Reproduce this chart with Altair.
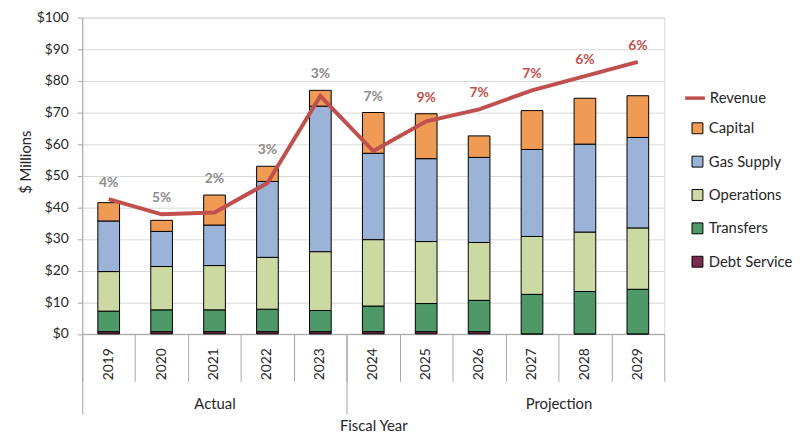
import altair as alt
import pandas as pd

# ---- data ----
years = ["2019", "2020", "2021", "2022", "2023", "2024", "2025", "2026", "2027", "2028", "2029"]
debt_service = [0.7, 0.7, 0.7, 0.7, 0.7, 0.7, 0.7, 0.7, 0.0, 0.0, 0.0]
transfers = [6.5, 6.9, 6.9, 7.1, 6.7, 8.1, 8.9, 9.9, 12.5, 13.4, 14.1]
operations = [12.5, 13.7, 14.0, 16.4, 18.6, 21.0, 19.6, 18.3, 18.3, 18.8, 19.4]
gas_supply = [16.0, 11.1, 12.8, 24.0, 46.0, 27.3, 26.2, 26.9, 27.5, 27.8, 28.6]
capital = [5.8, 3.5, 9.5, 4.8, 5.0, 12.9, 14.2, 6.8, 12.3, 14.5, 13.2]
revenue = [42.6, 37.8, 38.4, 47.7, 75.2, 57.8, 67.2, 71.0, 77.0, 81.5, 86.0]
growth_labels = ["4%", "5%", "2%", "3%", "3%", "7%", "9%", "7%", "7%", "6%", "6%"]
label_kind = ["actual"] * 6 + ["projection"] * 5

groups = ["Actual", "Projection"]
group_bounds = [0, 5]          # band index where each group starts
group_label_pos = [2.5, 9]     # band index where each group's label sits

categories = ["Capital", "Gas Supply", "Operations", "Transfers", "Debt Service"]
cat_colors = ["#EF9B56", "#9AB3D6", "#CCD9A3", "#4F9868", "#7A2C4C"]
series = {"Debt Service": debt_service, "Transfers": transfers, "Operations": operations,
          "Gas Supply": gas_supply, "Capital": capital}
stack_order = ["Debt Service", "Transfers", "Operations", "Gas Supply", "Capital"]

rows = []
for cat in stack_order:
    for y, v in zip(years, series[cat]):
        rows.append({"Year": y, "cat": cat, "value": v, "ord": stack_order.index(cat)})
seg_df = pd.DataFrame(rows)

totals = [sum(series[c][i] for c in stack_order) for i in range(len(years))]
yr_df = pd.DataFrame({"Year": years, "Revenue": revenue, "total": totals,
                      "lab": growth_labels, "kind": label_kind, "series": "Revenue"})
grp_df = pd.DataFrame({"group": groups, "start": group_bounds, "mid": group_label_pos})

FONT = "Lato"
TXT = "#262626"
AXC = "#a6a6a6"
n = len(years)

xaxis = alt.Axis(ticks=False, labelAngle=270, labelPadding=14, labelFontSize=14,
                 domainColor=AXC, title=None, grid=False)
xscale = alt.Scale(paddingInner=0, paddingOuter=0)
yscale = alt.Scale(domain=[0, 100], nice=False)
yaxis = alt.Axis(values=list(range(0, 101, 10)), format="$.0f", title="$ Millions",
                 tickSize=5, tickColor=AXC, domainColor=AXC, gridColor="#d9d9d9",
                 labelFontSize=14, labelPadding=9, titleFontSize=15,
                 titlePadding=3, titleY=145.5)

bars = alt.Chart(seg_df).mark_bar(stroke="black", strokeWidth=1,
                                  width=alt.RelativeBandSize(0.41)).encode(
    x=alt.X("Year:O", scale=xscale, axis=xaxis),
    y=alt.Y("value:Q", stack="zero", scale=yscale, axis=yaxis),
    fill=alt.Fill("cat:N", scale=alt.Scale(domain=categories, range=cat_colors),
                  legend=alt.Legend(orient="none", legendX=614, legendY=104.3, title=None,
                                    symbolType="square", symbolSize=121,
                                    symbolStrokeColor="black", symbolStrokeWidth=1,
                                    labelFontSize=15, labelFont=FONT, labelColor=TXT,
                                    rowPadding=17.7, labelOffset=4, padding=0)),
    order=alt.Order("ord:Q", sort="ascending"),
)

line = alt.Chart(yr_df).mark_line(strokeWidth=4).encode(
    x=alt.X("Year:O", scale=xscale, axis=xaxis),
    y=alt.Y("Revenue:Q", scale=yscale, axis=yaxis),
    stroke=alt.Stroke("series:N", scale=alt.Scale(domain=["Revenue"], range=["#C0504D"]),
                      legend=alt.Legend(orient="none", legendX=607, legendY=69.3, title=None,
                                        symbolType="stroke", symbolSize=400,
                                        symbolStrokeWidth=3.5, labelFontSize=15,
                                        labelFont=FONT, labelColor=TXT, labelOffset=3,
                                        padding=0)),
)

labels = alt.Chart(yr_df).transform_calculate(
    top="max(datum.total, datum.Revenue)"
).mark_text(dy=-16, fontSize=14, fontWeight="bold", font=FONT, baseline="middle").encode(
    x=alt.X("Year:O", scale=xscale, axis=xaxis),
    y=alt.Y("top:Q", scale=yscale, axis=yaxis),
    text="lab:N",
    color=alt.condition(alt.datum.kind == "actual", alt.value("#8c8c8c"), alt.value("#C0504D")),
)

main = alt.layer(bars, line, labels)

lin = alt.Scale(domain=[0, n], nice=False, zero=False)

year_seps = alt.Chart(grp_df).mark_point(opacity=0).encode(
    x=alt.X("start:Q", scale=lin,
            axis=alt.Axis(orient="bottom", values=list(range(n + 1)), tickSize=48,
                          tickColor=AXC, labels=False, domain=False, grid=False, title=None)),
)

group_seps = alt.Chart(grp_df).mark_point(opacity=0).encode(
    x=alt.X("start:Q", scale=lin,
            axis=alt.Axis(orient="bottom", values=group_bounds, tickSize=81,
                          tickColor=AXC, labels=False, domain=False, grid=False, title=None)),
)

lab_expr = " : ".join(f"datum.value == {p} ? '{g}'" for p, g in zip(group_label_pos, groups)) + " : ''"
group_labels = alt.Chart(grp_df).mark_point(opacity=0).encode(
    x=alt.X("mid:Q", scale=lin,
            axis=alt.Axis(orient="bottom", values=group_label_pos, ticks=False, domain=False,
                          grid=False, labelExpr=lab_expr, labelPadding=63, labelFontSize=15,
                          title="Fiscal Year", titleFontSize=15, titlePadding=8)),
)

chart = alt.layer(main, year_seps, group_seps, group_labels).resolve_scale(
    x="independent"
).properties(
    width=588, height=319.5,
    autosize=alt.AutoSizeParams(type="none"),
    padding={"left": 75, "top": 7.5, "right": 129, "bottom": 106},
).configure_view(stroke="#d9d9d9").configure_axis(
    labelFont=FONT, titleFont=FONT, labelColor=TXT, titleColor=TXT, titleFontWeight="normal"
)

chart.save("out.html", embed_options={"renderer": "svg", "actions": False})
